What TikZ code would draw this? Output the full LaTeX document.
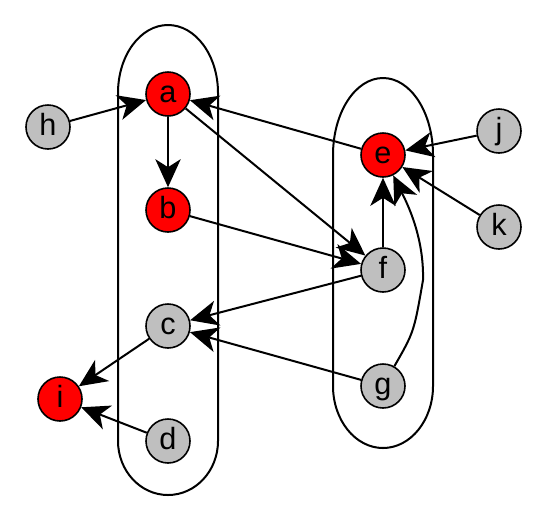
\documentclass[tikz,border=0pt]{standalone}
\usepackage{fontspec}
\setmainfont{Liberation Sans}
\usepackage{tikz}
\usetikzlibrary{arrows.meta}
\begin{document}
\begin{tikzpicture}[->, >={Stealth[length=21pt,width=19pt,inset=6pt]}, x=0.75pt, y=-0.75pt, line width=1.5pt, main node/.style={circle, draw, line width=1.2pt, minimum size=33pt, inner sep=0pt, text height=15pt, text depth=2pt, font=\fontsize{23}{28}\selectfont}, red node/.style={main node, fill=red}, gray node/.style={main node, fill=lightgray}, hull/.style={-, line width=1.5pt}]
\useasboundingbox (0,0) rectangle (555,519);
\draw[hull] (118,441) -- (118,93) .. controls (118,55.4) and (140.4,25) .. (168,25) .. controls (195.6,25) and (218,55.4) .. (218,93) -- (218,441) .. controls (218,470.8) and (195.6,495) .. (168,495) .. controls (140.4,495) and (118,470.8) .. (118,441);
\draw[hull] (333,386) -- (333,155) .. controls (333,112.5) and (355.4,78) .. (383,78) .. controls (410.6,78) and (433,112.5) .. (433,155) -- (433,386) .. controls (433,420.2) and (410.6,448) .. (383,448) .. controls (355.4,448) and (333,420.2) .. (333,386);
\node[red node] (a) at (168,94) {a};
\node[red node] (b) at (168,210) {b};
\node[gray node] (c) at (168,326) {c};
\node[gray node] (d) at (168,441) {d};
\node[gray node] (h) at (48,127) {h};
\node[red node] (i) at (60,399) {i};
\node[red node] (e) at (383,155) {e};
\node[gray node] (f) at (383,270) {f};
\node[gray node] (g) at (383,386) {g};
\node[gray node] (j) at (499,131) {j};
\node[gray node] (k) at (499,227) {k};
\coordinate (ge) at (423,280);
\path
(h) edge (a)
(a) edge (b)
(e) edge (a)
(a) edge (f)
(b) edge (f)
(f) edge (e)
(j) edge (e)
(k) edge (e)
(f) edge (c)
(g) edge (c)
(c) edge (i)
(d) edge (i);
\draw (g) .. controls (414,332) .. (ge) .. controls (424,238) and (408,205) .. (e);
\end{tikzpicture}
\end{document}
